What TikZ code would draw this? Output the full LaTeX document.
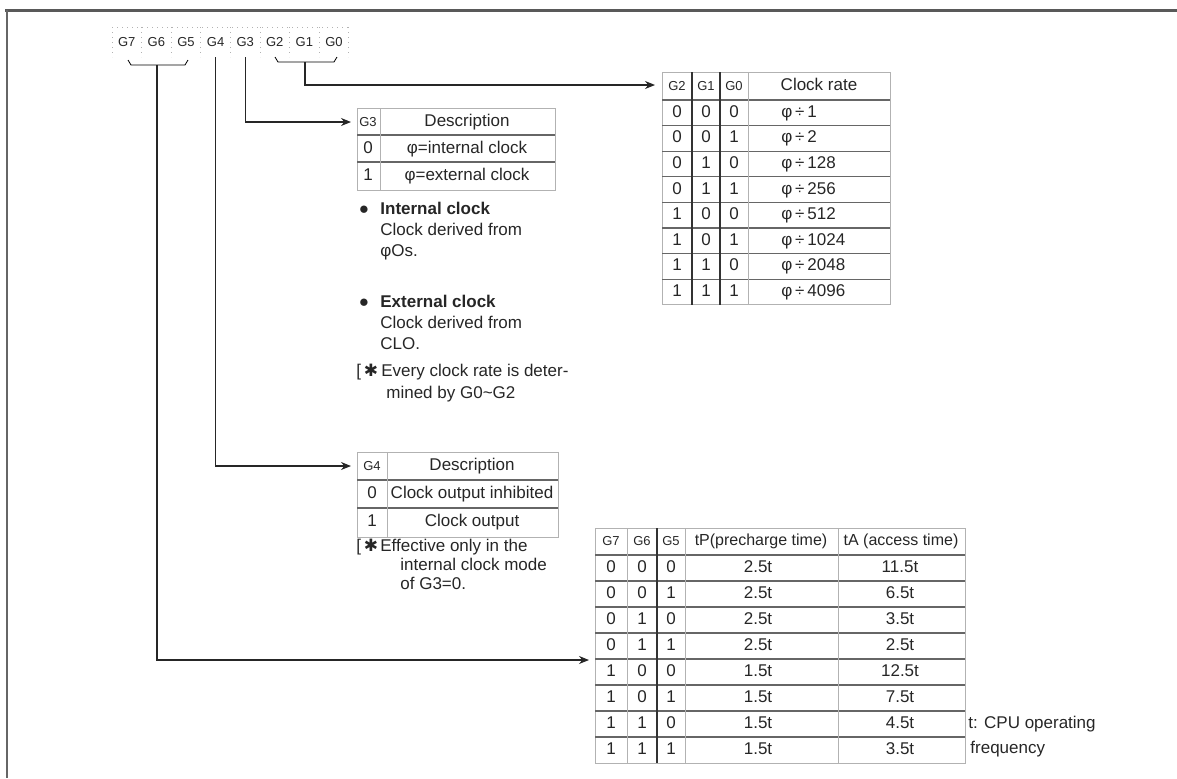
\documentclass[tikz,border=0pt]{standalone}
\usepackage{fontspec}
\setmainfont{Liberation Sans}
\newfontfamily\starfont{DejaVu Sans}
\usetikzlibrary{arrows.meta}
\newcommand\tabfont{\fontsize{8.5}{10}\selectfont}
\newcommand\bitfont{\fontsize{6.5}{8}\selectfont}
\tikzset{bit/.style = {inner sep = 0, minimum width = 14.8pt, minimum height = 15pt, font = \bitfont}}
\tikzset{hbit/.style = {inner sep = 0, font = \bitfont}}
\tikzset{txt/.style = {inner sep = 0, text height = 6.3pt, text depth = 1.8pt, font = \tabfont}}
\tikzset{note/.style = {txt, anchor = west}}
\tikzset{hvy/.style = {draw = black!80, line width = 0.8pt}}
\tikzset{mid/.style = {draw = black!60, line width = 0.6pt}}
\tikzset{lite/.style = {draw = black!30, line width = 0.5pt}}
\tikzset{wire/.style = {draw = black!85, line width = 0.6pt, -{Stealth[length = 5pt, width = 4pt]}}}

\begin{document}
\begin{tikzpicture}[x = 0.5pt, y = -0.5pt, every node/.style = {text = black!85}]
      \useasboundingbox (0,0) rectangle (1177,778);
      \draw[black!65, line width = 1.5pt] (5,10) -- (1177,10);
      \draw[black!60, line width = 1pt] (7,10) -- (7,778);
      % register bits
      \foreach \b [count = \i from 0] in {7,6,5,4,3,2,1,0}
        \node[bit] (g\b) at ({126.8+29.6*\i},42) {G\b};
      \draw[lite, dotted] (112,27) -- (349,27);
      \foreach \i in {0,...,8}
        \draw[lite, dotted] ({112+29.6*\i},27) -- ++(0,30);
      \draw (128,60) -- (131,65) -- (185,65) -- (188,60);
      \draw (275,57) -- (278,62) -- (334,62) -- (337,57);
      \coordinate (b765) at (157,65);
      \coordinate (b210) at (305,62);
      \coordinate (in210) at (655,85);
      \coordinate (in3) at (351,122);
      \coordinate (in4) at (351,466);
      \coordinate (in765) at (589,660);
      \draw[wire] (b210) |- (in210);
      \draw[wire] (g3.south) |- (in3);
      \draw[wire] (g4.south) |- (in4);
      \draw[wire] (b765) |- (in765);
      % clock rate table
      \draw[lite] (662,72) rectangle (890,304.8);
      \foreach \k in {0,...,7}
        \draw[mid] (662,{100+25.6*\k}) -- (890,{100+25.6*\k});
      \draw[hvy] (692,72) -- (692,304.8);
      \draw[hvy] (720,72) -- (720,304.8);
      \draw[lite] (748,72) -- (748,304.8);
      \node[hbit] (r2) at (677,86) {G2};
      \node[hbit] (r1) at (706,86) {G1};
      \node[hbit] (r0) at (734,86) {G0};
      \node[txt] (rh) at (819,86) {Clock rate};
      \foreach \a/\b/\c/\d [count = \k from 0] in {0/0/0/1, 0/0/1/2, 0/1/0/128, 0/1/1/256,
          1/0/0/512, 1/0/1/1024, 1/1/0/2048, 1/1/1/4096} {
        \node[txt] (ra\k) at (677,{112.8+25.6*\k}) {\a};
        \node[txt] (rb\k) at (706,{112.8+25.6*\k}) {\b};
        \node[txt] (rc\k) at (734,{112.8+25.6*\k}) {\c};
        \node[note] (rd\k) at (781,{112.8+25.6*\k}) {φ\,÷\,\d};
      }
      % clock source table
      \draw[lite] (357,108) rectangle (555,190);
      \draw[mid] (357,135) -- (555,135);
      \draw[mid] (357,162) -- (555,162);
      \draw[lite] (380,108) -- (380,190);
      \node[hbit] (s3h) at (368,122) {G3};
      \node[txt] (d3h) at (467,122) {Description};
      \node[txt] (s30) at (368,149) {0};
      \node[txt] (d30) at (467,149) {φ=internal clock};
      \node[txt] (s31) at (368,176) {1};
      \node[txt] (d31) at (467,176) {φ=external clock};
      \node[txt] (dot1) at (364,210) {●};
      \node[note, font = \tabfont\bfseries] (int0) at (380,210) {Internal clock};
      \node[note] (int1) at (380,231) {Clock derived from};
      \node[note] (int2) at (380,252) {φOs.};
      \node[txt] (dot2) at (364,303) {●};
      \node[note, font = \tabfont\bfseries] (ext0) at (380,303) {External clock};
      \node[note] (ext1) at (380,324) {Clock derived from};
      \node[note] (ext2) at (380,345) {CLO.};
      \node[note] (mk1) at (356,372) {[\,{\starfont ✱}};
      \node[note] (rate1) at (381,372) {Every clock rate is deter-};
      \node[note] (rate2) at (386,394) {mined by G0\textasciitilde G2};
      % clock output table
      \draw[lite] (357,452) rectangle (558,537);
      \draw[mid] (357,480) -- (558,480);
      \draw[mid] (357,508) -- (558,508);
      \draw[lite] (387,452) -- (387,537);
      \node[hbit] (s4h) at (372,466) {G4};
      \node[txt] (d4h) at (472,466) {Description};
      \node[txt] (s40) at (372,494) {0};
      \node[txt] (d40) at (472,494) {Clock output inhibited};
      \node[txt] (s41) at (372,522) {1};
      \node[txt] (d41) at (472,522) {Clock output};
      \node[note] (mk2) at (356,547) {[\,{\starfont ✱}};
      \node[note] (eff1) at (380,547) {Effective only in the};
      \node[note] (eff2) at (400,566) {internal clock mode};
      \node[note] (eff3) at (400,585) {of G3=0.};
      % access time table
      \draw[lite] (595,528) rectangle (965,763);
      \foreach \k in {0,...,7}
        \draw[mid] (595,{555+26*\k}) -- (965,{555+26*\k});
      \draw[lite] (627,528) -- (627,763);
      \draw[hvy] (657,528) -- (657,763);
      \draw[lite] (685,528) -- (685,763);
      \draw[lite] (838,528) -- (838,763);
      \node[hbit] (t7) at (611,541) {G7};
      \node[hbit] (t6) at (642,541) {G6};
      \node[hbit] (t5) at (671,541) {G5};
      \node[txt, font = \fontsize{8}{10}\selectfont] (tph) at (761,541) {tP(precharge time)};
      \node[txt, font = \fontsize{8}{10}\selectfont] (tah) at (901,541) {tA (access time)};
      \foreach \a/\b/\c/\p/\q [count = \k from 0] in {0/0/0/2.5/11.5, 0/0/1/2.5/6.5,
          0/1/0/2.5/3.5, 0/1/1/2.5/2.5, 1/0/0/1.5/12.5, 1/0/1/1.5/7.5, 1/1/0/1.5/4.5, 1/1/1/1.5/3.5} {
        \node[txt] (ta\k) at (611,{568+26*\k}) {\a};
        \node[txt] (tb\k) at (642,{568+26*\k}) {\b};
        \node[txt] (tc\k) at (671,{568+26*\k}) {\c};
        \node[txt] (tp\k) at (758,{568+26*\k}) {\p t};
        \node[txt] (tq\k) at (900,{568+26*\k}) {\q t};
      }
      \node[note] (cpu1) at (968,724) {t: CPU operating};
      \node[note] (cpu2) at (970,749) {frequency};
\end{tikzpicture}
\end{document}
